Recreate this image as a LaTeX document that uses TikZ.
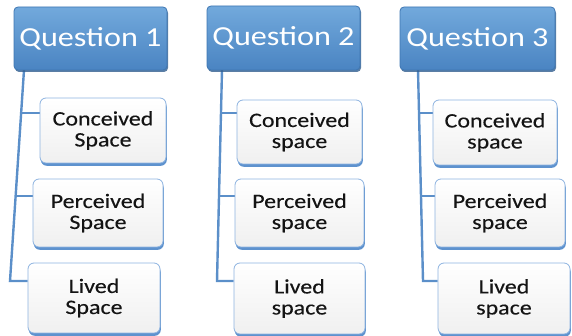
\documentclass[tikz,border=0pt]{standalone}
\usepackage{fontspec}
\setmainfont{Carlito}
\newfontfamily\cfont[FakeStretch=1.17]{Carlito}
\newfontfamily\cfontb[FakeStretch=1.17,FakeBold=0.25]{Carlito}
\usetikzlibrary{shadows,backgrounds,calc}
\definecolor{hdtop}{HTML}{72A9DC}
\definecolor{hdbot}{HTML}{4A84C2}
\definecolor{hdline}{HTML}{3E76B2}
\definecolor{chline}{HTML}{8DB3E0}
\definecolor{chshadow}{HTML}{5E92CE}
\definecolor{conn}{HTML}{5B8FC9}
\tikzset{
  header/.style={draw=hdline, line width=0.8pt, rounded corners=4pt,
    top color=hdtop, bottom color=hdbot, text=white,
    font=\cfont\fontsize{27.5}{29}\selectfont, inner sep=0pt,
    drop shadow={shadow xshift=1pt, shadow yshift=-2pt, fill=hdline!80!black, opacity=0.8}},
  child/.style={draw=chline, line width=0.8pt, rounded corners=6pt,
    top color=white, bottom color=gray!12, text=black!92,
    font=\cfontb\fontsize{20.5}{21}\selectfont, align=center, inner sep=0pt,
    drop shadow={shadow xshift=0.8pt, shadow yshift=-2.8pt, fill=chshadow, opacity=1}},
  connector/.style={draw=conn, line width=2.4pt}
}
\begin{document}
\begin{tikzpicture}[x=1pt,y=1pt]
\useasboundingbox (0,0) rectangle (572,336);
% headers
\node[header, minimum width=153pt, minimum height=63pt] (q1) at (90.5,297.5) {Question 1};
\node[header, minimum width=153pt, minimum height=64pt] (q2) at (283.5,298) {Question 2};
\node[header, minimum width=155pt, minimum height=63pt] (q3) at (477.5,297.5) {Question 3};
% children column 1
\node[child, minimum width=126pt, minimum height=65pt] (c1) at (103,205.5) {Conceived\\Space};
\node[child, minimum width=130pt, minimum height=68pt] (p1) at (98,123) {Perceived\\Space};
\node[child, minimum width=132pt, minimum height=70pt] (l1) at (94,38) {Lived\\Space};
% children column 2
\node[child, minimum width=125pt, minimum height=64pt] (c2) at (299.5,204) {Conceived\\space};
\node[child, minimum width=129pt, minimum height=68pt] (p2) at (299.5,123) {Perceived\\space};
\node[child, minimum width=131pt, minimum height=71pt] (l2) at (299.5,37.5) {Lived\\space};
% children column 3
\node[child, minimum width=124pt, minimum height=65pt] (c3) at (495,203.5) {Conceived\\space};
\node[child, minimum width=130pt, minimum height=68pt] (p3) at (500,123) {Perceived\\space};
\node[child, minimum width=132pt, minimum height=71pt] (l3) at (504,37.5) {Lived\\space};
% connector anchor points
\coordinate (t1) at (24,266);  \coordinate (b1) at (10,55);
\coordinate (t2) at (222,266); \coordinate (b2) at (217,55);
\coordinate (t3) at (418,266); \coordinate (b3) at (423,55);
\begin{scope}[on background layer]
\foreach \i in {1,2,3}{
  \coordinate (m\i a) at ($(t\i)!0.204!(b\i)$);
  \coordinate (m\i b) at ($(t\i)!0.597!(b\i)$);
}
\draw[connector] (t1) -- (b1) -- (b1 -| l1.west);
\draw[connector] (m1a) -- (m1a -| c1.west);
\draw[connector] (m1b) -- (m1b -| p1.west);
\draw[connector] (t2) -- (b2) -- (b2 -| l2.west);
\draw[connector] (m2a) -- (m2a -| c2.west);
\draw[connector] (m2b) -- (m2b -| p2.west);
\draw[connector] (t3) -- (b3) -- (b3 -| l3.west);
\draw[connector] (m3a) -- (m3a -| c3.west);
\draw[connector] (m3b) -- (m3b -| p3.west);
\end{scope}
\end{tikzpicture}
\end{document}
